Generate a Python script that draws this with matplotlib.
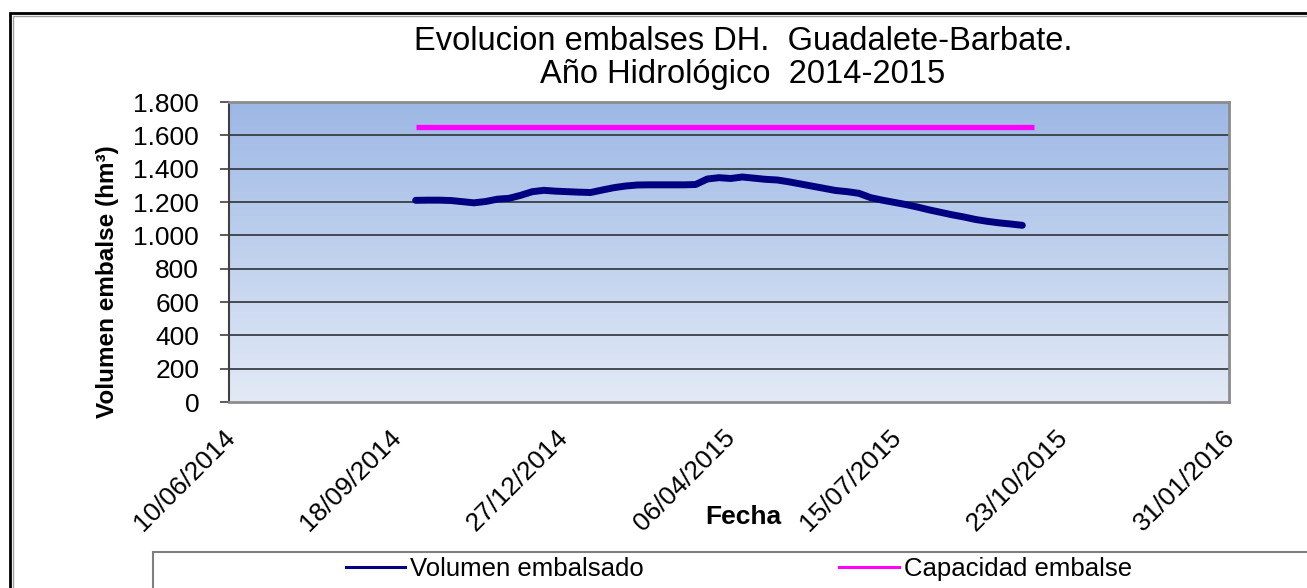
import numpy as np
import pandas as pd
import matplotlib
matplotlib.use("Agg")
import matplotlib.pyplot as plt
import matplotlib.dates as mdates
from matplotlib.patches import Rectangle
from matplotlib.lines import Line2D
from matplotlib.ticker import FuncFormatter
from matplotlib.transforms import ScaledTranslation

plt.rcParams['font.family'] = ['Liberation Sans', 'DejaVu Sans']

# ---------------- data ----------------
title_line1 = "Evolucion embalses DH.  Guadalete-Barbate."
title_line2 = "Año Hidrológico  2014-2015"
y_label = "Volumen embalse (hm³)"
x_label = "Fecha"
series_volume_name = "Volumen embalsado"
series_capacity_name = "Capacidad embalse"

volume_start = "2014-09-30"
volume_values = [1210, 1211, 1211, 1209, 1202, 1195, 1203, 1217, 1222, 1240,
                 1262, 1270, 1265, 1262, 1259, 1257, 1272, 1286, 1296, 1302,
                 1303, 1303, 1303, 1303, 1305, 1338, 1346, 1341, 1350, 1343,
                 1336, 1332, 1321, 1308, 1295, 1282, 1269, 1262, 1252, 1226,
                 1211, 1198, 1185, 1170, 1153, 1138, 1123, 1110, 1095, 1084,
                 1075, 1068, 1060]
capacity_dates = ["2014-09-30", "2015-10-06"]
capacity_values = [1651, 1651]

x_min, x_max = "2014-06-10", "2016-01-31"
tick_step_days = 100
y_ticks = [0, 200, 400, 600, 800, 1000, 1200, 1400, 1600, 1800]

volume_dates = pd.date_range(volume_start, periods=len(volume_values), freq="7D")
cap_dates = pd.to_datetime(capacity_dates)

# ---------------- figure ----------------
W, H = 1307, 588
fig = plt.figure(figsize=(W / 100, H / 100), dpi=100)
fig.patch.set_facecolor("white")

def fx(px):
    return px / W

def fy(py):
    return 1 - py / H

# outer chart border (cropped on right/bottom)
fig.add_artist(Rectangle((fx(10), fy(700)), fx(1400), fy(13) - fy(700),
                         transform=fig.transFigure, fill=False,
                         edgecolor="black", linewidth=2.0))
fig.add_artist(Rectangle((fx(13), fy(700)), fx(1400), fy(16) - fy(700),
                         transform=fig.transFigure, fill=False,
                         edgecolor="#a0a0a0", linewidth=1.0))

left, right, top, bottom = 229, 1229, 102, 402
ax = fig.add_axes([fx(left), fy(bottom), fx(right - left), fy(top) - fy(bottom)])

# gradient background
grad = np.linspace(0, 1, 256).reshape(-1, 1)
top_c = np.array([157, 184, 229]) / 255
bot_c = np.array([227, 234, 246]) / 255
img = top_c[None, None, :] * (1 - grad[:, :, None]) + bot_c[None, None, :] * grad[:, :, None]
ax.imshow(img, extent=[0, 1, 0, 1], transform=ax.transAxes, aspect="auto", zorder=0)

ax.set_xlim(pd.Timestamp(x_min), pd.Timestamp(x_max))
ax.set_ylim(y_ticks[0], y_ticks[-1])

xt = pd.date_range(x_min, x_max, freq=f"{tick_step_days}D")
ax.set_xticks(xt)
ax.xaxis.set_major_formatter(mdates.DateFormatter("%d/%m/%Y"))
ax.set_yticks(y_ticks)
ax.yaxis.set_major_formatter(FuncFormatter(lambda v, p: f"{int(v):,}".replace(",", ".")))

for yv in y_ticks[1:-1]:
    ax.axhline(yv, color="#2e3238", linewidth=1.2, zorder=1)

ax.plot(cap_dates, capacity_values, color="#ff00ff", linewidth=3.8,
        solid_capstyle="butt", zorder=3)
ax.plot(volume_dates, volume_values, color="#000080", linewidth=5.0,
        solid_capstyle="round", solid_joinstyle="round", zorder=4)

for s in ["top", "right", "bottom"]:
    ax.spines[s].set_color("#8c8c8c")
    ax.spines[s].set_linewidth(2.0)
ax.spines["left"].set_color("#404040")
ax.spines["left"].set_linewidth(1.5)

ax.tick_params(axis="y", length=6.5, width=1.2, color="#404040", pad=15,
               labelsize=19)
ax.tick_params(axis="x", length=0, pad=23, labelsize=19)
for lab in ax.get_xticklabels():
    lab.set_rotation(45)
    lab.set_ha("right")
    lab.set_va("center")
    lab.set_rotation_mode("anchor")
    lab.set_transform(lab.get_transform() + ScaledTranslation(0.02, 0, fig.dpi_scale_trans))

# titles and labels
fig.text(fx(743), fy(41), title_line1, ha="center", va="center", fontsize=23.5)
fig.text(fx(743), fy(74), title_line2, ha="center", va="center", fontsize=23.5)
fig.text(fx(108), fy(282), y_label, rotation=90, ha="center", va="center",
         fontsize=17.5, fontweight="bold")
fig.text(fx(743), fy(517), x_label, ha="center", va="center",
         fontsize=19, fontweight="bold")

# legend box
fig.add_artist(Rectangle((fx(153), fy(700)), fx(1400), fy(552) - fy(700),
                         transform=fig.transFigure, fill=True, facecolor="white",
                         edgecolor="#7f7f7f", linewidth=1.5))
handles = [Line2D([], [], color="#000080", linewidth=2.2),
           Line2D([], [], color="#ff00ff", linewidth=2.2)]
fig.legend(handles, [series_volume_name, series_capacity_name], ncol=2,
           loc="center", bbox_to_anchor=(fx(739), fy(569)), frameon=False,
           fontsize=18.5, handlelength=2.3, handletextpad=0.2, columnspacing=7.6,
           borderpad=0, borderaxespad=0)

fig.savefig("out.png", dpi=100)
